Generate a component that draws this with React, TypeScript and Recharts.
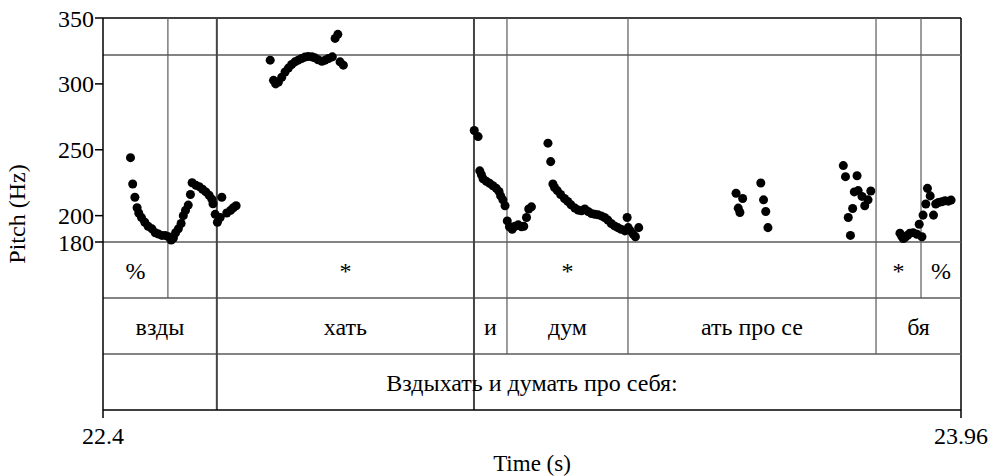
import { ScatterChart, Scatter, XAxis, YAxis, ReferenceLine, ReferenceArea } from "recharts";

// pitch points [time (s), pitch (Hz)] per syllable
const vzdyPoints = [
  [22.45, 244], [22.454, 224], [22.458, 214], [22.462, 206], [22.465, 202], [22.47, 198.5],
  [22.476, 195], [22.482, 192], [22.489, 190], [22.495, 187], [22.501, 186], [22.507, 185],
  [22.513, 185], [22.519, 184], [22.524, 181.5], [22.528, 183], [22.532, 187], [22.537, 190],
  [22.542, 194], [22.546, 200], [22.55, 204], [22.555, 208], [22.559, 216], [22.562, 225],
  [22.569, 223], [22.575, 222], [22.581, 220], [22.587, 218], [22.593, 215.5], [22.598, 212.5],
  [22.6, 209], [22.604, 201], [22.608, 195], [22.613, 198.5], [22.616, 214], [22.625, 202],
  [22.632, 204], [22.637, 206], [22.642, 207.5],
];
const khatPoints = [
  [22.704, 318], [22.71, 302.7], [22.714, 300], [22.719, 301.4], [22.725, 305], [22.731, 309],
  [22.737, 312], [22.743, 314.7], [22.749, 316.7], [22.755, 318], [22.761, 319.3], [22.767, 320.3],
  [22.773, 320.8], [22.78, 320.5], [22.785, 319.8], [22.791, 318.3], [22.798, 317.2], [22.804, 318],
  [22.81, 319.3], [22.817, 320.5], [22.822, 334.5], [22.827, 337.6], [22.831, 316.7], [22.837, 314.2],
];
const iPoints = [
  [23.075, 264.6], [23.082, 260], [23.085, 234], [23.088, 231], [23.091, 228], [23.097, 226],
  [23.103, 224.5], [23.109, 222.7], [23.115, 220.7], [23.12, 218.4], [23.123, 215], [23.127, 212],
  [23.131, 207.5], [23.135, 196], [23.139, 191.5], [23.144, 189.7], [23.149, 192], [23.155, 193],
  [23.161, 191.5], [23.165, 192], [23.17, 198.6], [23.174, 205], [23.179, 206.7],
];
const dumPoints = [
  [23.209, 255], [23.214, 241], [23.218, 224], [23.221, 221.4], [23.226, 219], [23.232, 216],
  [23.239, 213], [23.245, 210.8], [23.251, 208.2], [23.258, 205.7], [23.264, 204.2], [23.27, 203.7],
  [23.276, 205], [23.282, 203.1], [23.288, 201.6], [23.294, 201.1], [23.3, 200.6], [23.306, 199.8],
  [23.312, 198.6], [23.318, 196.6], [23.324, 194], [23.33, 192.2], [23.336, 190.9], [23.342, 189.7],
  [23.349, 188.4], [23.353, 198.6], [23.355, 190.9], [23.359, 188.4], [23.364, 186], [23.368, 184],
  [23.374, 190.9],
];
const atProSePoints = [
  [23.551, 217], [23.563, 213], [23.555, 205.7], [23.558, 202.4], [23.596, 224.8], [23.601, 212],
  [23.605, 203.1], [23.609, 190.9], [23.746, 238], [23.75, 229.6], [23.755, 198.6], [23.759, 185],
  [23.763, 205.4], [23.766, 218], [23.771, 230.3], [23.773, 219], [23.78, 214.6], [23.785, 207.5],
  [23.791, 212], [23.796, 218.7],
];
const byaPoints = [
  [23.849, 186.7], [23.852, 184.6], [23.855, 182.6], [23.858, 183.3], [23.863, 185.1], [23.867, 186.7],
  [23.873, 187.1], [23.88, 185.9], [23.884, 193.5], [23.889, 184], [23.891, 200.4], [23.896, 208.8],
  [23.899, 220.7], [23.904, 215], [23.91, 200.4], [23.914, 208.8], [23.919, 210], [23.925, 210.5],
  [23.931, 211.3], [23.937, 211], [23.942, 211.8],
];

const T_START = 22.4;
const T_END = 23.96;
const xTicks = [22.4, 23.96];
const yTicks = [180, 200, 250, 300, 350];
const LEVEL_LINE = 322;

// annotation tiers: intervals in seconds
const tonesTier = [
  { from: 22.4, to: 22.518, text: "%" },
  { from: 22.607, to: 23.0745, text: "*" },
  { from: 23.1345, to: 23.3545, text: "*" },
  { from: 23.8055, to: 23.8873, text: "*" },
  { from: 23.8873, to: 23.96, text: "%" },
];
const syllableTier = [
  { from: 22.4, to: 22.607, text: "взды" },
  { from: 22.607, to: 23.0745, text: "хать" },
  { from: 23.0745, to: 23.1345, text: "и" },
  { from: 23.1345, to: 23.3545, text: "дум" },
  { from: 23.3545, to: 23.8055, text: "ать про се" },
  { from: 23.8055, to: 23.96, text: "бя" },
];
const phraseTier = [{ from: 22.4, to: 23.96, text: "Вздыхать и думать про себя:" }];

// boundary times and how many tiers they cross
const boundaries = [
  { t: 22.518, tiers: 1, heavy: false },
  { t: 22.607, tiers: 3, heavy: true },
  { t: 23.0745, tiers: 3, heavy: true },
  { t: 23.1345, tiers: 2, heavy: false },
  { t: 23.3545, tiers: 2, heavy: false },
  { t: 23.8055, tiers: 2, heavy: false },
  { t: 23.8873, tiers: 1, heavy: false },
];

// the tiers sit under the pitch area, in the same (Hz) y space
const TIER_H = 42.5;
const Y_TOP = 350;
const Y_PITCH_MIN = 180;
const tierTop = (i: number) => Y_PITCH_MIN - i * TIER_H;
const Y_MIN = tierTop(3);

const toPts = (arr: number[][]) => arr.map(([t, hz]) => ({ t, hz }));
const series = [vzdyPoints, khatPoints, iPoints, dumPoints, atProSePoints, byaPoints].map(toPts);

const FONT = "Liberation Serif, Times New Roman, serif";
const LINE = "#5a5a5a";

export default function App() {
  const tiers = [tonesTier, syllableTier, phraseTier];
  return (
    <div style={{ position: "absolute", left: 0, top: 0, background: "#fff", fontFamily: FONT }}>
      <ScatterChart width={998} height={476} margin={{ top: 18, right: 37, bottom: 0, left: 8 }}>
        <XAxis
          type="number"
          dataKey="t"
          domain={[T_START, T_END]}
          ticks={xTicks}
          interval={0}
          height={66}
          tickSize={8}
          tickMargin={9}
          tick={{ fill: "#000", fontSize: 24, fontFamily: FONT }}
          tickLine={{ stroke: "#000", strokeWidth: 1.5 }}
          axisLine={{ stroke: "#000", strokeWidth: 1.5 }}
          tickFormatter={(v) => String(v)}
          label={{
            content: () => (
              <text x={532} y={471} textAnchor="middle" fill="#000" fontSize={23} fontFamily={FONT}>
                Time (s)
              </text>
            ),
          }}
        />
        <YAxis
          type="number"
          dataKey="hz"
          domain={[Y_MIN, Y_TOP]}
          ticks={yTicks}
          interval={0}
          width={95}
          tickSize={8}
          tickMargin={1}
          allowDataOverflow
          tick={{ fill: "#000", fontSize: 24, fontFamily: FONT }}
          tickLine={{ stroke: "#000", strokeWidth: 1.5 }}
          axisLine={{ stroke: "#000", strokeWidth: 1.5 }}
          label={{
            content: () => (
              <text x={17} y={214} transform="rotate(-90 17 214)" textAnchor="middle" dominantBaseline="central" fill="#000" fontSize={24} fontFamily={FONT}>
                Pitch (Hz)
              </text>
            ),
          }}
        />
        {/* frame top / right */}
        <ReferenceLine y={Y_TOP} stroke="#000" strokeWidth={1.5} />
        <ReferenceLine x={T_END} stroke="#000" strokeWidth={1.5} />
        <ReferenceLine y={LEVEL_LINE} stroke={LINE} strokeWidth={1.5} />
        {[0, 1, 2].map((i) => (
          <ReferenceLine key={"h" + i} y={tierTop(i)} stroke={LINE} strokeWidth={1.5} />
        ))}
        {boundaries.map((b) => (
          <ReferenceLine
            key={"b" + b.t}
            segment={[{ x: b.t, y: Y_TOP }, { x: b.t, y: tierTop(b.tiers) }]}
            stroke={b.heavy ? "#444" : LINE}
            strokeWidth={b.heavy ? 2 : 1.2}
          />
        ))}
        {tiers.map((tier, i) =>
          tier.map((iv) => (
            <ReferenceArea
              key={i + iv.text + iv.from}
              x1={iv.from}
              x2={iv.to}
              y1={tierTop(i + 1)}
              y2={tierTop(i)}
              fill="none"
              stroke="none"
              label={{ value: iv.text, position: "center", fill: "#000", fontSize: 24, fontFamily: FONT }}
            />
          ))
        )}
        {series.map((pts, i) => (
          <Scatter key={i} data={pts} fill="#000" shape="circle" isAnimationActive={false} r={3.5} />
        ))}
      </ScatterChart>
    </div>
  );
}
